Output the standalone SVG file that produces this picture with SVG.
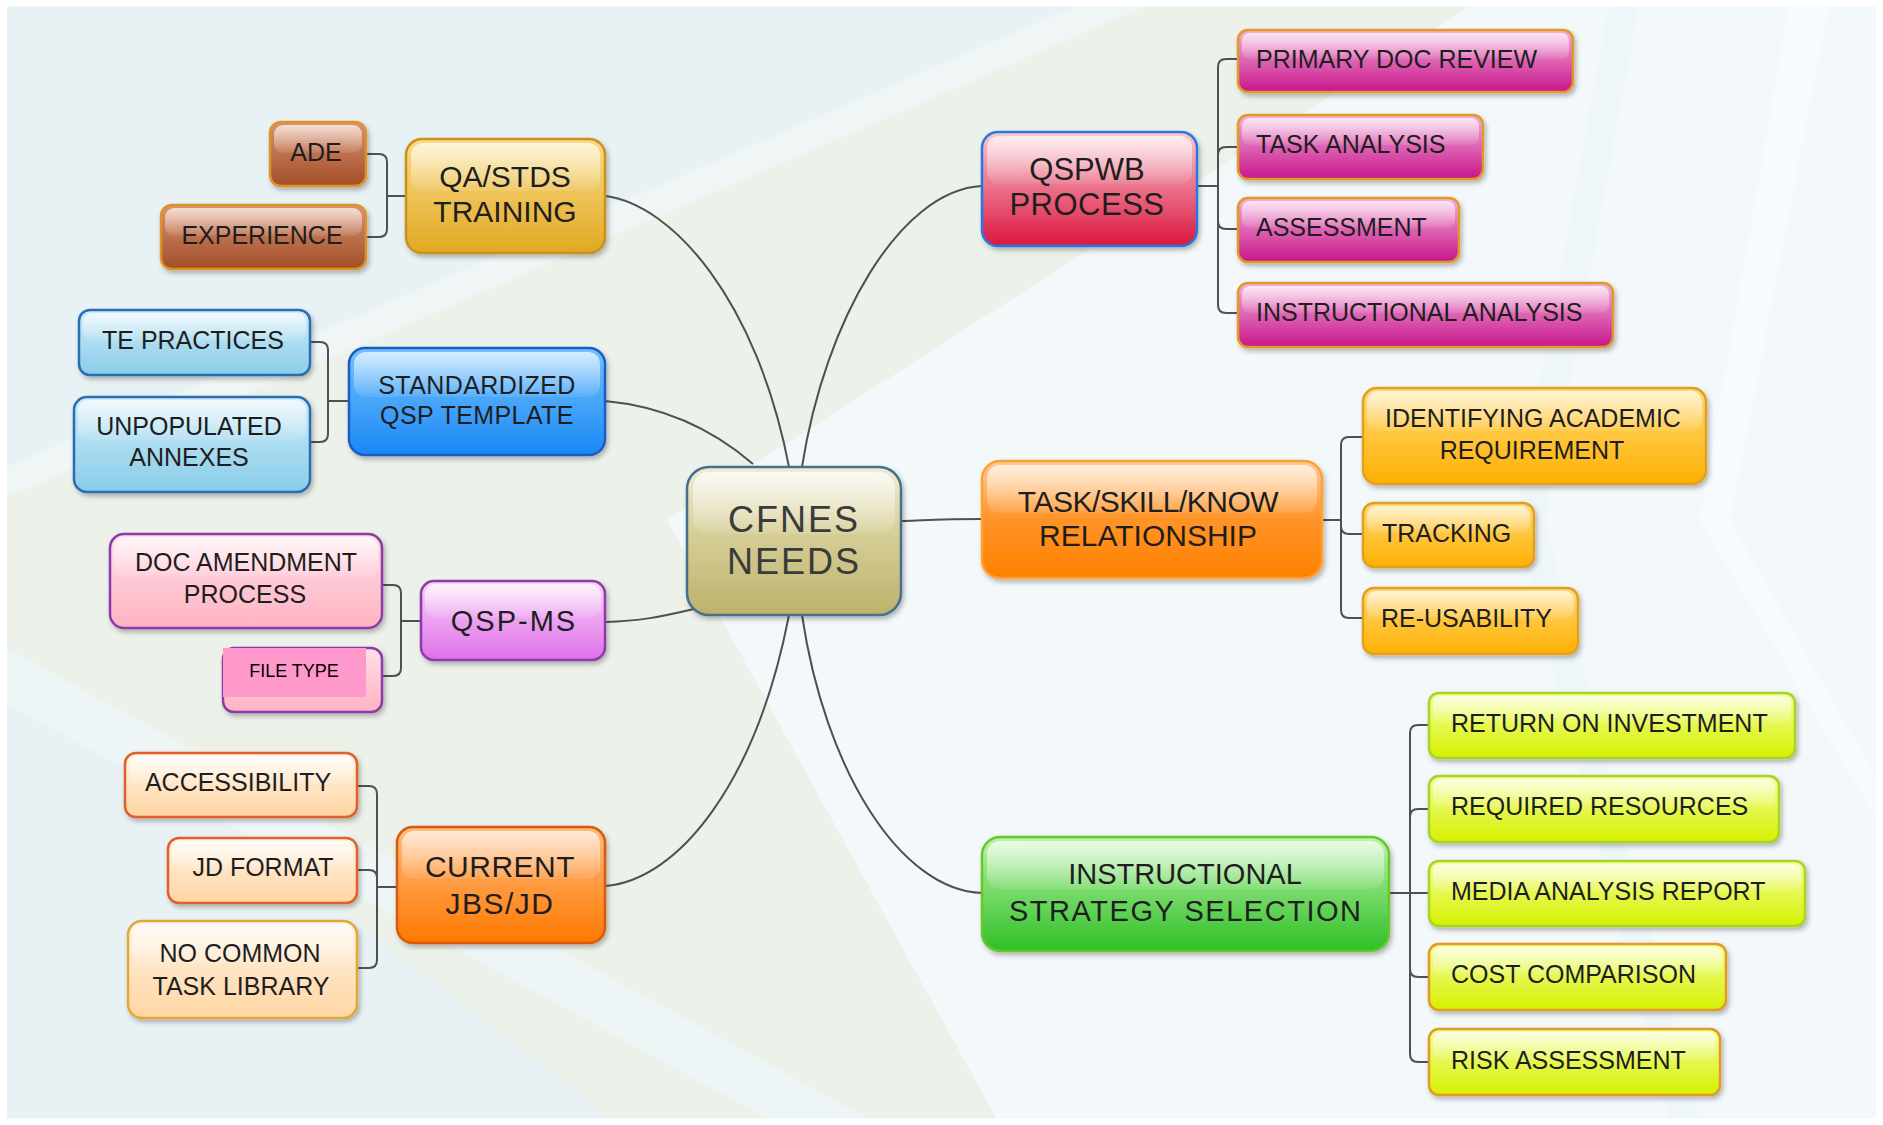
<svg xmlns="http://www.w3.org/2000/svg" width="1883" height="1125" viewBox="0 0 1883 1125">
<defs>
<linearGradient id="gCenter" x1="0" y1="0" x2="0" y2="1"><stop offset="0" stop-color="#f0edd4"/><stop offset="0.45" stop-color="#d6ce98"/><stop offset="1" stop-color="#bcb26a"/></linearGradient>
<linearGradient id="gQA" x1="0" y1="0" x2="0" y2="1"><stop offset="0" stop-color="#f8dc8a"/><stop offset="1" stop-color="#e2a822"/></linearGradient>
<linearGradient id="gBrown" x1="0" y1="0" x2="0" y2="1"><stop offset="0" stop-color="#d99272"/><stop offset="1" stop-color="#a24e28"/></linearGradient>
<linearGradient id="gBlue" x1="0" y1="0" x2="0" y2="1"><stop offset="0" stop-color="#74c2ff"/><stop offset="1" stop-color="#1a88f5"/></linearGradient>
<linearGradient id="gLBlue" x1="0" y1="0" x2="0" y2="1"><stop offset="0" stop-color="#d0ecf9"/><stop offset="1" stop-color="#88cde9"/></linearGradient>
<linearGradient id="gViolet" x1="0" y1="0" x2="0" y2="1"><stop offset="0" stop-color="#f8d2f8"/><stop offset="1" stop-color="#e070ea"/></linearGradient>
<linearGradient id="gPink" x1="0" y1="0" x2="0" y2="1"><stop offset="0" stop-color="#ffdfe8"/><stop offset="1" stop-color="#ffb2c2"/></linearGradient>
<linearGradient id="gOrange" x1="0" y1="0" x2="0" y2="1"><stop offset="0" stop-color="#ffbc80"/><stop offset="1" stop-color="#ff7800"/></linearGradient>
<linearGradient id="gPeach" x1="0" y1="0" x2="0" y2="1"><stop offset="0" stop-color="#fff4e6"/><stop offset="1" stop-color="#ffd5a2"/></linearGradient>
<linearGradient id="gRed" x1="0" y1="0" x2="0" y2="1"><stop offset="0" stop-color="#f9c8d0"/><stop offset="1" stop-color="#dc1640"/></linearGradient>
<linearGradient id="gMag" x1="0" y1="0" x2="0" y2="1"><stop offset="0" stop-color="#f4b0da"/><stop offset="1" stop-color="#c8168c"/></linearGradient>
<linearGradient id="gOrange2" x1="0" y1="0" x2="0" y2="1"><stop offset="0" stop-color="#ffcc98"/><stop offset="0.5" stop-color="#ff9428"/><stop offset="1" stop-color="#ff8000"/></linearGradient>
<linearGradient id="gGold" x1="0" y1="0" x2="0" y2="1"><stop offset="0" stop-color="#ffda78"/><stop offset="1" stop-color="#ffb000"/></linearGradient>
<linearGradient id="gGreen" x1="0" y1="0" x2="0" y2="1"><stop offset="0" stop-color="#bcf2ac"/><stop offset="1" stop-color="#2ec024"/></linearGradient>
<linearGradient id="gLime" x1="0" y1="0" x2="0" y2="1"><stop offset="0" stop-color="#f4ff9c"/><stop offset="1" stop-color="#d6f000"/></linearGradient>
<linearGradient id="hl" x1="0" y1="0" x2="0" y2="1"><stop offset="0" stop-color="#fff" stop-opacity="0.7"/><stop offset="1" stop-color="#fff" stop-opacity="0.08"/></linearGradient>
<filter id="sh" x="-10%" y="-10%" width="125%" height="140%"><feDropShadow dx="2" dy="3" stdDeviation="2.5" flood-color="#000" flood-opacity="0.28"/></filter>
</defs>
<style>
.b{stroke-width:2.5;filter:url(#sh)}
.hl{fill:url(#hl)}
text{font-family:"Liberation Sans",Arial,Helvetica,sans-serif;fill:#1e1e1e}
.tc{font-size:36px;letter-spacing:2px;text-anchor:middle;fill:#3a3a3a}
.tm{font-size:30px;text-anchor:middle}
.tl{font-size:25px}
.mid{text-anchor:middle}
.center{fill:url(#gCenter);stroke:#44708e}
.qa{fill:url(#gQA);stroke:#c8921a}
.brown{fill:url(#gBrown);stroke:#e0922a}
.blue{fill:url(#gBlue);stroke:#1c5cc8}
.lblue{fill:url(#gLBlue);stroke:#2a6db2}
.violet{fill:url(#gViolet);stroke:#8c3aa8}
.pink{fill:url(#gPink);stroke:#8c3aa8}
.orange{fill:url(#gOrange);stroke:#d85a10}
.peach{fill:url(#gPeach);stroke:#e0602a}
.peach2{fill:url(#gPeach);stroke:#e0a838}
.red{fill:url(#gRed);stroke:#2878e0}
.mag{fill:url(#gMag);stroke:#e09a28}
.orange2{fill:url(#gOrange2);stroke:#ffa030}
.gold{fill:url(#gGold);stroke:#e2a020}
.green{fill:url(#gGreen);stroke:#66c82a}
.lime{fill:url(#gLime);stroke:#a8d428}
.lime2{fill:url(#gLime);stroke:#e49a20}
#connectors path{fill:none;stroke:#505050;stroke-width:2}
</style>

<!-- background -->
<rect x="0" y="0" width="1883" height="1125" fill="#e8f1f4"/>
<polygon points="0,480 1110,0 1480,0 667,520 1000,1125 620,1125 0,650" fill="#ecf2ea"/>
<polygon points="667,520 1480,0 1883,0 1883,1125 1000,1125" fill="#f3f8fa"/>
<polygon points="1090,0 1160,0 0,500 0,470" fill="#f0f6f6"/>
<polygon points="0,645 0,700 780,1125 880,1125" fill="#eef5f7"/>
<polygon points="1790,0 1830,0 1730,520 1883,790 1883,830 1700,520" fill="#f8fbfd"/>
<polygon points="1610,0 1640,0 1545,520 1700,1125 1670,1125 1515,520" fill="#eff6f9"/>
<rect x="3.5" y="3" width="1876" height="1119" fill="none" stroke="#ffffff" stroke-width="7"/>

<g id="connectors">
<path d="M789 467 C757 300 672 204 605 196"/>
<path d="M753 464 C709 426 660 406 605 401"/>
<path d="M694 609 C660 617 640 621 605 622"/>
<path d="M789 615 C757 780 680 880 605 886"/>
<path d="M802 467 C825 320 900 190 982 186"/>
<path d="M901 521 C930 520 950 519 982 519"/>
<path d="M802 615 C825 770 900 890 982 893"/>
<path d="M366 154 H379 Q387 154 387 162 V229 Q387 237 379 237 H366 M387 196 H406"/>
<path d="M310 342 H320 Q328 342 328 350 V434 Q328 442 320 442 H310 M328 401 H349"/>
<path d="M382 585 H393 Q401 585 401 593 V668 Q401 676 393 676 H382 M401 621 H421"/>
<path d="M357 786 H369 Q377 786 377 794 V960 Q377 968 369 968 H357 M357 870 H369 Q377 870 377 878 M377 887 H397"/>
<path d="M1238 59 H1226 Q1218 59 1218 67 V305 Q1218 313 1226 313 H1238 M1238 147 H1226 Q1218 147 1218 155 M1218 221 Q1218 229 1226 229 H1238 M1197 186 H1218"/>
<path d="M1363 437 H1349 Q1341 437 1341 445 V610 Q1341 618 1349 618 H1363 M1341 526 Q1341 534 1349 534 H1363 M1322 520 H1341"/>
<path d="M1429 725 H1418 Q1410 725 1410 733 V1054 Q1410 1062 1418 1062 H1429 M1429 809 H1418 Q1410 809 1410 817 M1410 969 Q1410 977 1418 977 H1429 M1389 893 H1429"/>
</g>

<g id="n-center"><rect class="b center" x="687" y="467" width="214" height="148" rx="22"/><rect class="hl" x="693" y="472" width="202" height="62" rx="16"/><text class="tc" x="794" y="532">CFNES</text><text class="tc" x="794" y="574">NEEDS</text></g>

<g id="n-qa"><rect class="b qa" x="406" y="139" width="199" height="114" rx="16"/><rect class="hl" x="411" y="143" width="189" height="48" rx="12"/><text class="tm" x="505" y="187">QA/STDS</text><text class="tm" x="505" y="222">TRAINING</text></g>
<g id="n-ade"><rect class="b brown" x="270" y="122" width="96" height="64" rx="11"/><rect class="hl" x="274" y="125" width="88" height="28" rx="9"/><text class="tl mid" x="316" y="161">ADE</text></g>
<g id="n-experience"><rect class="b brown" x="161" y="205" width="205" height="64" rx="11"/><rect class="hl" x="165" y="208" width="197" height="28" rx="9"/><text class="tl mid" x="262" y="244">EXPERIENCE</text></g>

<g id="n-std"><rect class="b blue" x="349" y="348" width="256" height="107" rx="16"/><rect class="hl" x="354" y="352" width="246" height="45" rx="12"/><text class="mid" x="477" y="394" style="font-size:25px;letter-spacing:0.4px">STANDARDIZED</text><text class="mid" x="477" y="424" style="font-size:25px;letter-spacing:0.4px">QSP TEMPLATE</text></g>
<g id="n-te"><rect class="b lblue" x="79" y="310" width="231" height="65" rx="11"/><rect class="hl" x="83" y="313" width="223" height="28" rx="9"/><text class="tl mid" x="193" y="349">TE PRACTICES</text></g>
<g id="n-unpop"><rect class="b lblue" x="74" y="397" width="236" height="95" rx="13"/><rect class="hl" x="78" y="400" width="228" height="40" rx="10"/><text class="tl mid" x="189" y="435">UNPOPULATED</text><text class="tl mid" x="189" y="466">ANNEXES</text></g>

<g id="n-qspms"><rect class="b violet" x="421" y="581" width="184" height="79" rx="13"/><rect class="hl" x="425" y="584" width="176" height="34" rx="10"/><text class="mid" x="514" y="631" style="font-size:29px;letter-spacing:2px">QSP-MS</text></g>
<g id="n-doc"><rect class="b pink" x="110" y="534" width="272" height="94" rx="14"/><rect class="hl" x="114" y="537" width="264" height="40" rx="11"/><text class="tl mid" x="246" y="571">DOC AMENDMENT</text><text class="tl mid" x="245" y="603">PROCESS</text></g>
<g id="n-filetype"><rect class="b pink" x="223" y="648" width="159" height="64" rx="11"/><rect x="223" y="648" width="143" height="49" fill="#ff99cc"/><text class="mid" x="294" y="677" style="font-size:18px;fill:#000">FILE TYPE</text></g>

<g id="n-current"><rect class="b orange" x="397" y="827" width="208" height="116" rx="16"/><rect class="hl" x="402" y="831" width="198" height="48" rx="12"/><text class="tm" x="500" y="877" style="letter-spacing:0.5px">CURRENT</text><text class="tm" x="500" y="914" style="letter-spacing:1.5px">JBS/JD</text></g>
<g id="n-access"><rect class="b peach" x="125" y="753" width="232" height="64" rx="11"/><rect class="hl" x="129" y="756" width="224" height="28" rx="9"/><text class="tl mid" x="238" y="791">ACCESSIBILITY</text></g>
<g id="n-jdformat"><rect class="b peach" x="168" y="838" width="189" height="65" rx="11"/><rect class="hl" x="172" y="841" width="181" height="28" rx="9"/><text class="tl mid" x="263" y="876">JD FORMAT</text></g>
<g id="n-nocommon"><rect class="b peach2" x="128" y="921" width="229" height="97" rx="14"/><rect class="hl" x="132" y="924" width="221" height="40" rx="11"/><text class="tl mid" x="240" y="962">NO COMMON</text><text class="tl mid" x="241" y="995">TASK LIBRARY</text></g>

<g id="n-qspwb"><rect class="b red" x="982" y="132" width="215" height="114" rx="16"/><rect class="hl" x="987" y="136" width="205" height="48" rx="12"/><text class="mid" x="1087" y="180" style="font-size:31px">QSPWB</text><text class="mid" x="1087" y="215" style="font-size:31px;letter-spacing:0.5px">PROCESS</text></g>
<g id="n-primary"><rect class="b mag" x="1238" y="30" width="335" height="62" rx="10"/><rect class="hl" x="1242" y="33" width="327" height="26" rx="8"/><text class="tl" x="1256" y="68">PRIMARY DOC REVIEW</text></g>
<g id="n-taskan"><rect class="b mag" x="1238" y="115" width="245" height="64" rx="10"/><rect class="hl" x="1242" y="118" width="237" height="27" rx="8"/><text class="tl" x="1256" y="153">TASK ANALYSIS</text></g>
<g id="n-assess"><rect class="b mag" x="1238" y="198" width="221" height="64" rx="10"/><rect class="hl" x="1242" y="201" width="213" height="27" rx="8"/><text class="tl" x="1256" y="236">ASSESSMENT</text></g>
<g id="n-instran"><rect class="b mag" x="1238" y="283" width="375" height="64" rx="10"/><rect class="hl" x="1242" y="286" width="367" height="27" rx="8"/><text class="tl" x="1256" y="321">INSTRUCTIONAL ANALYSIS</text></g>

<g id="n-task"><rect class="b orange2" x="982" y="461" width="340" height="117" rx="18"/><rect class="hl" x="987" y="465" width="330" height="48" rx="13"/><text class="tm" x="1148" y="512" style="letter-spacing:-0.5px">TASK/SKILL/KNOW</text><text class="tm" x="1148" y="546">RELATIONSHIP</text></g>
<g id="n-ident"><rect class="b gold" x="1363" y="388" width="343" height="96" rx="14"/><rect class="hl" x="1367" y="391" width="335" height="40" rx="11"/><text class="tl mid" x="1533" y="427">IDENTIFYING ACADEMIC</text><text class="tl mid" x="1532" y="459">REQUIREMENT</text></g>
<g id="n-tracking"><rect class="b gold" x="1363" y="503" width="171" height="64" rx="11"/><rect class="hl" x="1367" y="506" width="163" height="27" rx="9"/><text class="tl" x="1382" y="542">TRACKING</text></g>
<g id="n-reuse"><rect class="b gold" x="1363" y="588" width="215" height="66" rx="11"/><rect class="hl" x="1367" y="591" width="207" height="28" rx="9"/><text class="tl" x="1381" y="627">RE-USABILITY</text></g>

<g id="n-iss"><rect class="b green" x="982" y="837" width="407" height="114" rx="18"/><rect class="hl" x="987" y="841" width="397" height="48" rx="13"/><text class="tm" x="1185" y="884" style="font-size:29px">INSTRUCTIONAL</text><text class="tm" x="1185" y="921" style="font-size:29px" textLength="352" lengthAdjust="spacing">STRATEGY SELECTION</text></g>
<g id="n-roi"><rect class="b lime" x="1429" y="693" width="366" height="65" rx="10"/><rect class="hl" x="1433" y="696" width="358" height="27" rx="8"/><text class="tl" x="1451" y="732">RETURN ON INVESTMENT</text></g>
<g id="n-reqres"><rect class="b lime" x="1429" y="776" width="350" height="66" rx="10"/><rect class="hl" x="1433" y="779" width="342" height="28" rx="8"/><text class="tl" x="1451" y="815">REQUIRED RESOURCES</text></g>
<g id="n-media"><rect class="b lime" x="1429" y="861" width="376" height="65" rx="10"/><rect class="hl" x="1433" y="864" width="368" height="27" rx="8"/><text class="tl" x="1451" y="900">MEDIA ANALYSIS REPORT</text></g>
<g id="n-cost"><rect class="b lime2" x="1429" y="944" width="297" height="66" rx="10"/><rect class="hl" x="1433" y="947" width="289" height="28" rx="8"/><text class="tl" x="1451" y="983">COST COMPARISON</text></g>
<g id="n-risk"><rect class="b lime2" x="1429" y="1029" width="291" height="66" rx="10"/><rect class="hl" x="1433" y="1032" width="283" height="28" rx="8"/><text class="tl" x="1451" y="1069">RISK ASSESSMENT</text></g>
</svg>
